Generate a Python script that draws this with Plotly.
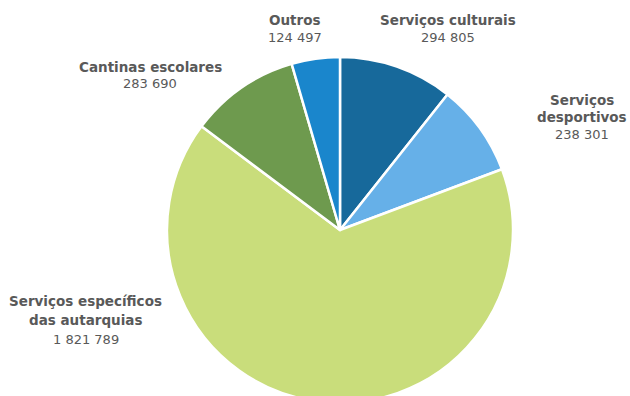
import plotly.graph_objects as go

# Despesa por tipo de serviço
categories = [
    "Serviços culturais",
    "Serviços desportivos",
    "Serviços específicos das autarquias",
    "Cantinas escolares",
    "Outros",
]
values = [294805, 238301, 1821789, 283690, 124497]
label_lines = [
    ["Serviços culturais"],
    ["Serviços", "desportivos"],
    ["Serviços específicos", "das autarquias"],
    ["Cantinas escolares"],
    ["Outros"],
]
colors = ["#17699b", "#66b0e8", "#c9dd7b", "#6e9a4e", "#1a86cc"]

W, H = 630, 410  # page window is 396 tall, the disc runs slightly past the bottom
cx, cy, r = 340, 230, 173

# label anchor (centre x, first-line y, line gap) in pixels from the top-left
label_pos = [(448, 20, 18), (582, 100, 17), (86, 301, 19), (150, 67, 17), (295, 20, 18)]


def fmt(v):
    return f"{v:,}".replace(",", " ")


fig = go.Figure(
    go.Pie(
        labels=categories,
        values=values,
        sort=False,
        direction="clockwise",
        rotation=0,
        marker=dict(colors=colors, line=dict(color="white", width=2.5)),
        textinfo="none",
        hoverinfo="label+value+percent",
        domain=dict(
            x=[(cx - r) / W, (cx + r) / W],
            y=[(H - cy - r) / H, (H - cy + r) / H],
        ),
    )
)

annotations = []
for lines, v, (px, py, gap) in zip(label_lines, values, label_pos):
    texts = [(f"<b>{t}</b>", 13.5) for t in lines] + [(fmt(v), 13)]
    for i, (t, size) in enumerate(texts):
        annotations.append(
            dict(
                x=px / W,
                y=1 - (py + i * gap) / H,
                xref="paper",
                yref="paper",
                xanchor="center",
                yanchor="middle",
                text=t,
                showarrow=False,
                font=dict(family="DejaVu Sans", size=size, color="#595959"),
            )
        )

fig.update_layout(
    width=W,
    height=H,
    margin=dict(l=0, r=0, t=0, b=0),
    paper_bgcolor="white",
    plot_bgcolor="white",
    showlegend=False,
    annotations=annotations,
)

fig.write_html(
    "out.html",
    post_script="document.body.style.margin='0';document.body.style.overflow='hidden';",
)
